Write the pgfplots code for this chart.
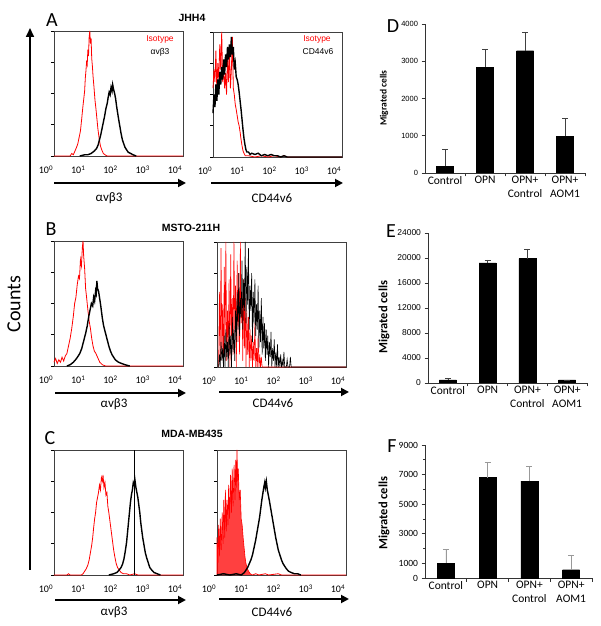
\documentclass[border=0pt]{standalone}
\usepackage{pgfplots}
\pgfplotsset{compat=1.18}
\usepackage{fontspec}
\setmainfont{Carlito}
\newfontfamily\arial{Liberation Sans}
\usetikzlibrary{arrows.meta}

\pgfplotsset{
  hist/.style={anchor=south west, scale only axis, width=129pt, height=125pt,
    xmin=0, xmax=4, ymin=0, ymax=100, clip=false,
    xtick={0,1,2,3,4},
    xticklabels={10\textsuperscript{0},10\textsuperscript{1},10\textsuperscript{2},10\textsuperscript{3},10\textsuperscript{4}},
    xtick style={draw=none},
    xticklabel style={font=\fontsize{10}{10}\selectfont, xshift=-8pt, yshift=-3pt},
    ytick={0,25,50,75,100}, yticklabels={}, ytick pos=left, tick align=outside,
    major tick length=3pt, ytick style={black, line width=0.5pt},
    axis line style={black!75, line width=0.6pt}},
  iso/.style={red, line width=0.8pt},
  pos/.style={black, line width=1.4pt},
  bars/.style={anchor=south west, scale only axis, xmin=0.5, xmax=4.5, ymin=0,
    ybar, bar width=17pt,
    axis x line=bottom, axis y line=left,
    axis line style={-, black!80, line width=0.6pt},
    xtick={1.5,2.5,3.5,4.5}, xticklabels={},
    extra x ticks={1,2,3,4},
    extra x tick labels={Control,OPN,{OPN+\\Control},{OPN+\\AOM1}},
    extra x tick style={major tick length=0pt},
    xticklabel style={align=center, font=\fontsize{11.5}{13.5}\selectfont},
    tick align=outside, major tick length=3.5pt,
    tick style={black!80, line width=0.6pt},
    /pgf/number format/1000 sep={}, /pgf/number format/assume math mode=true,
    scaled y ticks=false},
  bar/.style={fill=black, draw=black,
    error bars/.cd, y dir=plus, y explicit,
    error bar style={#1, line width=0.6pt},
    error mark options={rotate=90, mark size=3pt, #1, line width=0.6pt}},
  bar/.default={black!75}
}

\begin{document}
\begin{tikzpicture}
\path[use as bounding box] (0,0) rectangle (600pt,626pt);

% ---------- row A : JHH4 ----------
\begin{axis}[hist, at={(54pt,470pt)}]
\addplot[iso] coordinates {(0,0) (0.5,0) (0.55,2) (0.6,1) (0.65,4) (0.7,7) (0.74,10) (0.78,15) (0.82,20) (0.86,30) (0.89,38) (0.92,45) (0.95,52) (0.97,62) (0.99,68) (1.01,75) (1.03,73) (1.05,85) (1.07,80) (1.09,95) (1.11,100) (1.13,90) (1.15,94) (1.17,78) (1.19,72) (1.21,64) (1.24,55) (1.27,45) (1.30,38) (1.33,30) (1.36,22) (1.40,14) (1.44,8) (1.48,5) (1.53,2) (1.58,1) (1.65,0) (4,0)};
\addplot[pos] coordinates {(0.8,0) (0.95,1) (1.05,1) (1.15,2) (1.25,4) (1.32,6) (1.37,9) (1.41,13) (1.45,17) (1.49,22) (1.53,27) (1.57,32) (1.61,38) (1.65,42) (1.68,47) (1.71,51) (1.74,49) (1.77,55) (1.80,52) (1.82,57) (1.85,53) (1.88,50) (1.91,46) (1.94,40) (1.97,35) (2.00,30) (2.04,24) (2.08,18) (2.12,13) (2.16,10) (2.20,7) (2.25,5) (2.30,3) (2.38,2) (2.45,1) (2.55,0)};
\end{axis}

\begin{axis}[hist, at={(213pt,469pt)}]
\addplot[iso] coordinates {(0.0,55) (0.03,70) (0.06,60) (0.09,85) (0.12,52) (0.15,75) (0.18,62) (0.21,90) (0.24,70) (0.27,100) (0.30,60) (0.33,72) (0.36,55) (0.39,67) (0.42,50) (0.45,80) (0.48,60) (0.51,85) (0.54,55) (0.57,70) (0.60,96) (0.63,55) (0.66,50) (0.69,42) (0.72,38) (0.75,33) (0.78,28) (0.81,25) (0.84,20) (0.87,14) (0.90,9) (0.93,5) (0.96,3) (1.00,1) (1.1,1) (1.3,0) (1.5,1) (1.7,0) (1.9,1) (2.1,0) (2.2,1) (2.3,0) (4,0)};
\addplot[pos] coordinates {(0.0,35) (0.03,50) (0.06,40) (0.09,58) (0.12,45) (0.15,62) (0.18,50) (0.21,68) (0.24,58) (0.27,72) (0.30,62) (0.33,78) (0.36,66) (0.39,82) (0.42,72) (0.45,88) (0.48,78) (0.51,90) (0.54,80) (0.57,96) (0.60,82) (0.63,88) (0.66,70) (0.69,75) (0.72,64) (0.75,62) (0.78,58) (0.81,52) (0.84,45) (0.87,38) (0.90,30) (0.93,22) (0.96,15) (0.99,10) (1.02,6) (1.05,4) (1.1,4) (1.15,2) (1.2,3) (1.3,2) (1.4,3) (1.5,1) (1.6,2) (1.7,1) (1.8,2) (1.9,1) (2.0,1) (2.1,0) (2.2,1) (2.3,0) (4,0)};
\end{axis}

% ---------- row B : MSTO-211H ----------
\begin{axis}[hist, at={(54pt,260pt)}]
\addplot[iso] coordinates {(0,3) (0.05,6) (0.1,2) (0.15,5) (0.2,3) (0.25,7) (0.3,4) (0.35,8) (0.4,10) (0.45,16) (0.5,22) (0.55,30) (0.6,40) (0.64,50) (0.68,55) (0.72,65) (0.76,72) (0.79,70) (0.82,85) (0.85,80) (0.88,95) (0.9,100) (0.92,88) (0.95,78) (0.98,62) (1.01,55) (1.05,45) (1.09,36) (1.13,30) (1.17,22) (1.21,16) (1.25,12) (1.3,10) (1.35,7) (1.42,3) (1.5,1) (1.6,0) (4,0)};
\addplot[pos] coordinates {(0.4,0) (0.5,1) (0.6,3) (0.7,6) (0.8,10) (0.86,14) (0.92,20) (0.98,26) (1.03,32) (1.08,40) (1.12,45) (1.16,50) (1.2,48) (1.23,55) (1.26,52) (1.29,60) (1.31,58) (1.33,68) (1.35,62) (1.38,60) (1.41,55) (1.44,50) (1.47,44) (1.5,38) (1.54,32) (1.58,28) (1.62,24) (1.66,20) (1.7,16) (1.75,12) (1.8,9) (1.85,7) (1.9,5) (2.0,3) (2.1,2) (2.2,1) (2.35,0)};
\end{axis}

\begin{axis}[hist, at={(217pt,259pt)}]
\addplot[red, line width=0.6pt] coordinates {(0.05,0) (0.075,60) (0.1,5) (0.125,95) (0.15,10) (0.175,50) (0.2,0) (0.225,80) (0.25,20) (0.275,100) (0.3,5) (0.325,45) (0.35,15) (0.375,70) (0.4,0) (0.425,90) (0.45,25) (0.475,55) (0.5,10) (0.525,100) (0.55,30) (0.575,65) (0.6,0) (0.625,85) (0.65,20) (0.675,75) (0.7,10) (0.725,100) (0.75,35) (0.775,60) (0.8,5) (0.825,70) (0.85,15) (0.875,55) (0.9,0) (0.925,45) (0.95,10) (0.975,40) (1.0,0) (1.025,30) (1.05,5) (1.075,25) (1.1,0) (1.125,20) (1.15,5) (1.175,35) (1.2,0) (1.225,15) (1.25,0) (1.275,25) (1.3,0) (1.325,10) (1.35,0) (1.375,8) (1.4,0) (4,0)};
\addplot[black, line width=0.6pt] coordinates {(0.05,0) (0.075,10) (0.1,0) (0.125,20) (0.15,5) (0.175,15) (0.2,0) (0.225,25) (0.25,0) (0.275,30) (0.3,8) (0.325,20) (0.35,0) (0.375,35) (0.4,10) (0.425,25) (0.45,0) (0.475,40) (0.5,12) (0.525,30) (0.55,5) (0.575,45) (0.6,20) (0.625,60) (0.65,30) (0.675,75) (0.7,25) (0.725,55) (0.75,40) (0.775,85) (0.8,30) (0.825,70) (0.85,45) (0.875,100) (0.9,35) (0.925,80) (0.95,50) (0.975,95) (1.0,30) (1.025,65) (1.05,45) (1.075,75) (1.1,20) (1.125,60) (1.15,35) (1.175,70) (1.2,25) (1.225,50) (1.25,30) (1.275,65) (1.3,15) (1.325,45) (1.35,20) (1.375,55) (1.4,10) (1.425,40) (1.45,15) (1.475,35) (1.5,5) (1.525,30) (1.55,10) (1.575,25) (1.6,0) (1.625,20) (1.65,8) (1.675,28) (1.7,0) (1.725,15) (1.75,5) (1.775,22) (1.8,0) (1.825,12) (1.85,0) (1.875,18) (1.9,0) (1.925,8) (1.95,0) (1.975,10) (2.0,0) (2.025,5) (2.05,0) (2.075,12) (2.1,0) (2.15,0) (2.175,6) (2.2,0) (2.25,0) (2.275,8) (2.3,0) (4,0)};
\end{axis}

% ---------- row C : MDA-MB435 ----------
\begin{axis}[hist, at={(54pt,51pt)}]
\addplot[iso] coordinates {(0,0) (0.4,0) (0.45,1) (0.5,0) (0.85,0) (0.9,1) (0.95,3) (1.0,5) (1.05,8) (1.09,12) (1.13,18) (1.17,24) (1.2,30) (1.23,38) (1.26,45) (1.29,50) (1.32,58) (1.35,62) (1.38,66) (1.41,72) (1.44,68) (1.47,78) (1.5,75) (1.52,80) (1.55,70) (1.58,74) (1.61,64) (1.64,66) (1.67,55) (1.7,50) (1.73,44) (1.76,38) (1.79,32) (1.82,26) (1.85,20) (1.89,14) (1.93,9) (1.97,6) (2.02,4) (2.08,2) (2.15,1) (2.25,1) (2.35,0) (2.5,1) (2.6,0) (4,0)};
\addplot[pos] coordinates {(1.7,0) (1.85,1) (1.95,2) (2.02,4) (2.08,6) (2.13,9) (2.17,13) (2.21,19) (2.25,26) (2.28,34) (2.31,42) (2.34,50) (2.37,58) (2.4,64) (2.43,68) (2.46,74) (2.49,72) (2.51,76) (2.54,70) (2.57,66) (2.6,62) (2.63,56) (2.66,50) (2.69,42) (2.72,36) (2.75,30) (2.79,24) (2.83,18) (2.87,14) (2.92,10) (2.97,6) (3.03,4) (3.1,2) (3.2,1) (3.3,0)};
\addplot[black, line width=0.5pt] coordinates {(2.49,0) (2.49,100)};
\end{axis}

\begin{axis}[hist, at={(217pt,51pt)}]
\addplot[red, line width=0.6pt, fill=red, fill opacity=0.75] coordinates {(0.0,0) (0.0,30) (0.03,10) (0.05,40) (0.08,15) (0.1,45) (0.13,20) (0.16,50) (0.19,25) (0.21,60) (0.24,30) (0.26,68) (0.29,35) (0.31,60) (0.34,40) (0.36,72) (0.39,45) (0.42,80) (0.45,50) (0.47,85) (0.5,55) (0.53,88) (0.56,60) (0.58,92) (0.6,70) (0.62,100) (0.64,75) (0.66,85) (0.69,60) (0.72,68) (0.75,45) (0.78,40) (0.81,30) (0.84,22) (0.87,14) (0.9,9) (0.94,5) (0.98,3) (1.03,1) (1.1,0)};
\addplot[iso] coordinates {(1.1,0) (1.2,1) (1.3,0) (1.5,1) (1.6,0) (1.9,1) (2.0,0) (4,0)};
\addplot[pos] coordinates {(0,0) (0.2,1) (0.4,0) (0.6,1) (0.75,0) (0.85,2) (0.9,4) (0.95,6) (1.0,9) (1.05,12) (1.1,16) (1.15,22) (1.2,28) (1.24,34) (1.28,40) (1.32,46) (1.36,54) (1.39,60) (1.42,65) (1.45,70) (1.48,74) (1.5,70) (1.53,75) (1.56,68) (1.59,64) (1.62,60) (1.66,54) (1.7,48) (1.74,42) (1.78,36) (1.82,30) (1.86,25) (1.9,20) (1.95,16) (2.0,12) (2.05,9) (2.1,7) (2.15,5) (2.22,3) (2.3,2) (2.4,1) (2.5,1) (2.6,0)};
\end{axis}

% ---------- bar charts ----------
\begin{axis}[bars, at={(425pt,453pt)}, width=160pt, height=149pt,
  ymax=4000, ytick={0,1000,2000,3000,4000},
  yticklabel style={font=\arial\fontsize{7.5}{8}\selectfont}]
\addplot[bar] coordinates {(1,180) +- (0,460) (2,2845) +- (0,465) (3,3283) +- (0,492) (4,984) +- (0,474)};
\end{axis}

\begin{axis}[bars, at={(428pt,243pt)}, width=159pt, height=150pt,
  ymax=24000, ytick={0,4000,8000,12000,16000,20000,24000},
  yticklabel style={font=\arial\fontsize{8.5}{9}\selectfont}]
\addplot[bar] coordinates {(1,500) +- (0,300) (2,19200) +- (0,500) (3,19900) +- (0,1540) (4,480) +- (0,0)};
\end{axis}

\begin{axis}[bars, at={(425pt,48pt)}, width=167pt, height=133pt,
  ymax=9000, ytick={0,1000,3000,5000,7000,9000},
  minor ytick={2000,4000,6000,8000}, minor tick length=2pt,
  yticklabel style={font=\fontsize{9.5}{10}\selectfont}]
\addplot[bar={black!40}] coordinates {(1,1000) +- (0,950) (2,6800) +- (0,1000) (3,6550) +- (0,1000) (4,560) +- (0,1000)};
\end{axis}

% ---------- annotations ----------
\node[rotate=90, font=\bfseries\fontsize{9.5}{10}\selectfont] at (384pt,528pt) {Migrated cells};
\node[rotate=90, font=\bfseries\fontsize{12.5}{13}\selectfont] at (384pt,309pt) {Migrated cells};
\node[rotate=90, font=\bfseries\fontsize{12.5}{13}\selectfont] at (384pt,113pt) {Migrated cells};
\begin{scope}[font=\fontsize{20}{20}\selectfont]
\node at (52pt,606pt) {A};
\node at (51pt,397pt) {B};
\node at (50pt,188pt) {C};
\node at (393pt,600pt) {D};
\node at (391pt,395pt) {E};
\node at (392pt,180pt) {F};
\end{scope}
\begin{scope}[font=\arial\bfseries\fontsize{10.5}{11}\selectfont]
\node at (192pt,608pt) {JHH4};
\node at (191pt,398pt) {MSTO-211H};
\node at (192pt,192pt) {MDA-MB435};
\end{scope}
\begin{scope}[font=\arial\fontsize{8.5}{9}\selectfont]
\node[red] at (160pt,587pt) {Isotype};
\node at (160pt,574pt) {αvβ3};
\node[red] at (317pt,587pt) {Isotype};
\node at (318pt,574pt) {CD44v6};
\end{scope}
\begin{scope}[line width=1.8pt, -{Triangle[length=8pt,width=8pt]}]
\draw (54pt,443pt) -- (186pt,443pt);
\draw (211pt,443pt) -- (343pt,443pt);
\draw (55pt,233pt) -- (186pt,233pt);
\draw (219pt,234pt) -- (349pt,234pt);
\draw (55pt,26pt) -- (186pt,26pt);
\draw (219pt,27pt) -- (349pt,27pt);
\end{scope}
\begin{scope}[font=\fontsize{13}{13}\selectfont]
\node at (109pt,428pt) {αvβ3};
\node at (272pt,428pt) {CD44v6};
\node at (114pt,222pt) {αvβ3};
\node at (273pt,223pt) {CD44v6};
\node at (114pt,14pt) {αvβ3};
\node at (272pt,14pt) {CD44v6};
\end{scope}
\draw[line width=1.6pt, -{Triangle[length=9pt,width=8pt]}] (30pt,56pt) -- (30pt,598pt);
\node[rotate=90, font=\fontsize{20}{20}\selectfont] at (14pt,322pt) {Counts};
\end{tikzpicture}
\end{document}
